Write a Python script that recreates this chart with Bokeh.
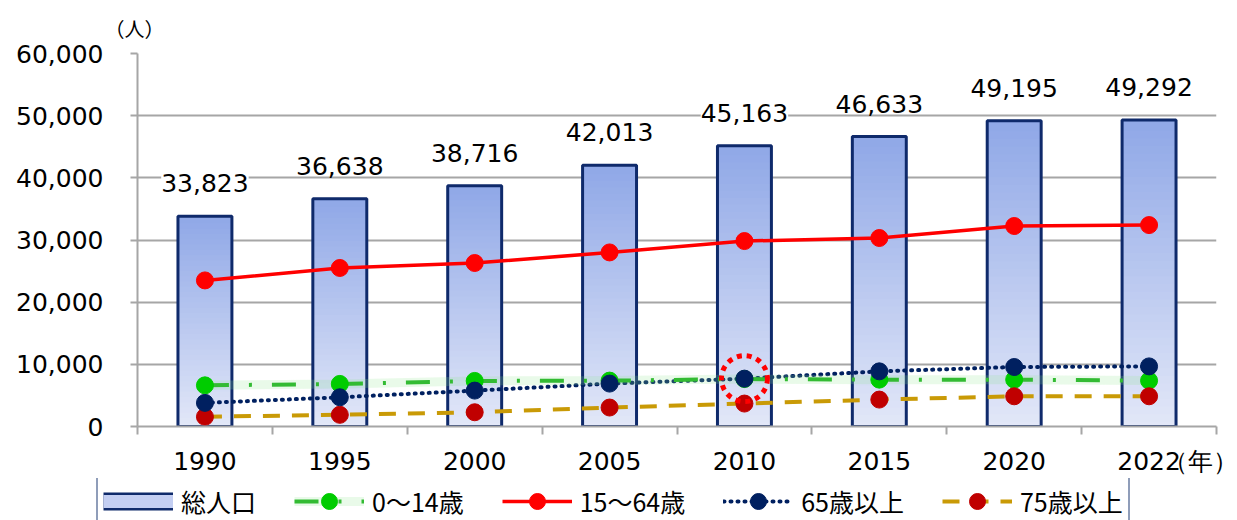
import numpy as np
from bokeh.plotting import figure
from bokeh.layouts import column, row
from bokeh.models import (ColumnDataSource, FixedTicker, NumeralTickFormatter,
                          Legend, LegendItem, LabelSet, Range1d, Title)
from bokeh.core.properties import value
from bokeh.embed import file_html
from bokeh.resources import INLINE

# ---------------- data ----------------
years = ["1990", "1995", "2000", "2005", "2010", "2015", "2020", "2022"]
total = [33823, 36638, 38716, 42013, 45163, 46633, 49195, 49292]
age_0_14 = [6620, 6850, 7330, 7380, 7630, 7540, 7540, 7380]
age_15_64 = [23500, 25500, 26300, 28000, 29830, 30320, 32250, 32400]
age_65_over = [3800, 4700, 5775, 6900, 7700, 8870, 9570, 9670]
age_75_over = [1560, 1880, 2290, 3050, 3690, 4330, 4860, 4860]
y_ticks = [0, 10000, 20000, 30000, 40000, 50000, 60000]
highlight_year = "2010"
series_names = ["総人口", "0～14歳", "15～64歳", "65歳以上", "75歳以上"]
y_unit = "（人）"
x_unit = "（年）"

# ---------------- styling ----------------
NUM_FONT = "DejaVu Sans"
JP_FONT = "Noto Sans CJK JP"
GRID = "#a6a6a6"
NAVY = "#0f2a6b"
UNIT_TICK_POS = 7.99   # where the "(年)" unit text sits on the x axis
W = 1237

S75_LINE = dict(line_color="#c99a06", line_width=4, line_dash="17 12")
S65_LINE = dict(line_color="#002060", line_width=4, line_dash="1 6", line_cap="round")
S014_GLOW = dict(line_color="#8fe88f", line_width=9, line_alpha=0.2)
S014_LINE = dict(line_color="#33bb33", line_width=4, line_dash="24 20 3 20")
S1564_LINE = dict(line_color="#ff0000", line_width=3.5)
S014_PT = dict(fill_color="#00cc00", line_color="#00cc00")
S75_PT = dict(fill_color="#c00000", line_color="#c00000")
S65_PT = dict(fill_color="#002060", line_color="#002060")
S1564_PT = dict(fill_color="#ff0000", line_color="#ff0000")

xs = np.arange(len(years)) + 0.5
tot = np.array(total, dtype=float)

p = figure(width=W, height=478, x_range=Range1d(0, len(years)),
           y_range=Range1d(0, 60000), output_backend="svg",
           toolbar_location=None, min_border_left=137, min_border_right=21,
           min_border_top=53, min_border_bottom=51)
p.outline_line_color = None
p.background_fill_color = "white"

# unit label for y (as a title above the frame)
p.add_layout(Title(text=y_unit, align="left", offset=-33, standoff=22,
                   text_font=JP_FONT, text_font_size="20px", text_font_style="normal",
                   text_color="black"), "above")

# axes
p.yaxis.ticker = FixedTicker(ticks=y_ticks)
p.yaxis.formatter = NumeralTickFormatter(format="0,0")
p.yaxis.major_label_text_font = NUM_FONT
p.yaxis.major_label_text_font_size = "25px"
p.yaxis.major_label_text_color = "black"
p.yaxis.axis_line_color = GRID
p.yaxis.axis_line_width = 2
p.yaxis.major_tick_line_color = GRID
p.yaxis.major_tick_line_width = 2
p.yaxis.major_tick_out = 7
p.yaxis.major_tick_in = 0
p.yaxis.minor_tick_line_color = None
p.yaxis.major_label_standoff = 27

labels = {float(xv): y for xv, y in zip(xs, years)}
labels[UNIT_TICK_POS] = x_unit
p.xaxis.ticker = FixedTicker(ticks=list(xs) + [UNIT_TICK_POS],
                             minor_ticks=list(range(len(years) + 1)))
p.xaxis.major_label_overrides = labels
p.xaxis.major_label_text_font = NUM_FONT
p.xaxis.major_label_text_font_size = "25px"
p.xaxis.major_label_text_color = "black"
p.xaxis.axis_line_color = GRID
p.xaxis.axis_line_width = 2
p.xaxis.major_tick_line_color = None
p.xaxis.major_tick_out = 0
p.xaxis.major_tick_in = 0
p.xaxis.minor_tick_line_color = GRID
p.xaxis.minor_tick_line_width = 2
p.xaxis.minor_tick_out = 8
p.xaxis.minor_tick_in = 0
p.xaxis.major_label_standoff = 12

p.xgrid.visible = False
p.ygrid.ticker = FixedTicker(ticks=y_ticks)
p.ygrid.grid_line_color = GRID
p.ygrid.grid_line_width = 2

# ---------------- bars (gradient) ----------------
BAR_W = 0.4
top_c = np.array([0x90, 0xa8, 0xe7], dtype=float)
bot_c = np.array([0xe3, 0xe8, 0xf8], dtype=float)
N = 40
for k in range(N):
    f = (k + 0.5) / N
    c = bot_c + (top_c - bot_c) * f
    col = "#%02x%02x%02x" % tuple(int(round(v)) for v in c)
    b = np.maximum(tot * (k - 0.4) / N, 0)
    tp = tot * (k + 1) / N
    p.vbar(x=xs, bottom=b, top=tp, width=BAR_W, fill_color=col, line_color=None)
p.vbar(x=xs, top=tot, width=BAR_W, fill_color=None, line_color=NAVY, line_width=3)

# bar value labels
lab_src = ColumnDataSource(dict(x=xs, y=tot, t=[f"{v:,}" for v in total]))
p.add_layout(LabelSet(x="x", y="y", text="t", source=lab_src, y_offset=24,
                      text_align="center", text_baseline="alphabetic",
                      text_font=value(NUM_FONT), text_font_size="25px",
                      text_color="black", background_fill_color="white"))

# ---------------- lines ----------------
p.line(xs, age_75_over, **S75_LINE)
p.line(xs, age_65_over, **S65_LINE)
p.line(xs, age_0_14, **S014_GLOW)
p.line(xs, age_0_14, **S014_LINE)
p.line(xs, age_15_64, **S1564_LINE)
p.scatter(xs, age_0_14, size=17, **S014_PT)
p.scatter(xs, age_75_over, size=17, **S75_PT)
p.scatter(xs, age_65_over, size=17, **S65_PT)
p.scatter(xs, age_15_64, size=17, **S1564_PT)

# highlight circle
hi = years.index(highlight_year)
p.scatter([xs[hi]], [age_65_over[hi]], size=46, fill_color=None,
          line_color="#ff0000", line_width=5, line_dash="5 5")

# ---------------- legend strip (separate figure below) ----------------
# same series drawn again, but the strip's ranges keep them out of view;
# only their legend glyphs show.
q = figure(width=W, height=42, output_backend="svg", toolbar_location=None,
           x_axis_location=None, y_axis_location=None, min_border=0,
           x_range=Range1d(0, 1), y_range=Range1d(-2, -1))
q.outline_line_color = None
q.grid.visible = False
lb_border = q.line(xs, tot, line_color=NAVY, line_width=18)
lb_fill = q.line(xs, tot, line_color="#c3cef2", line_width=13)
lg_glow = q.line(xs, age_0_14, **S014_GLOW)
lg_line = q.line(xs, age_0_14, **S014_LINE)
lg_pt = q.scatter(xs, age_0_14, **S014_PT)
lr_line = q.line(xs, age_15_64, **S1564_LINE)
lr_pt = q.scatter(xs, age_15_64, **S1564_PT)
ln_line = q.line(xs, age_65_over, **S65_LINE)
ln_pt = q.scatter(xs, age_65_over, **S65_PT)
lo_line = q.line(xs, age_75_over, **S75_LINE)
lo_pt = q.scatter(xs, age_75_over, **S75_PT)

legend = Legend(items=[
    LegendItem(label=series_names[0], renderers=[lb_border, lb_fill]),
    LegendItem(label=series_names[1], renderers=[lg_glow, lg_line, lg_pt]),
    LegendItem(label=series_names[2], renderers=[lr_line, lr_pt]),
    LegendItem(label=series_names[3], renderers=[ln_line, ln_pt]),
    LegendItem(label=series_names[4], renderers=[lo_line, lo_pt]),
], orientation="horizontal", location=(96, -8), padding=5, spacing=38,
    glyph_width=70, glyph_height=40, label_standoff=8, margin=0,
    label_text_font=JP_FONT, label_text_font_size="25px", label_text_color="black",
    border_line_color="#1f3b73", border_line_width=2, background_fill_color="white",
    background_fill_alpha=1.0)
q.add_layout(legend, "center")

layout = column(p, row(q), spacing=0)
open("out.html", "w").write(file_html(layout, INLINE))
